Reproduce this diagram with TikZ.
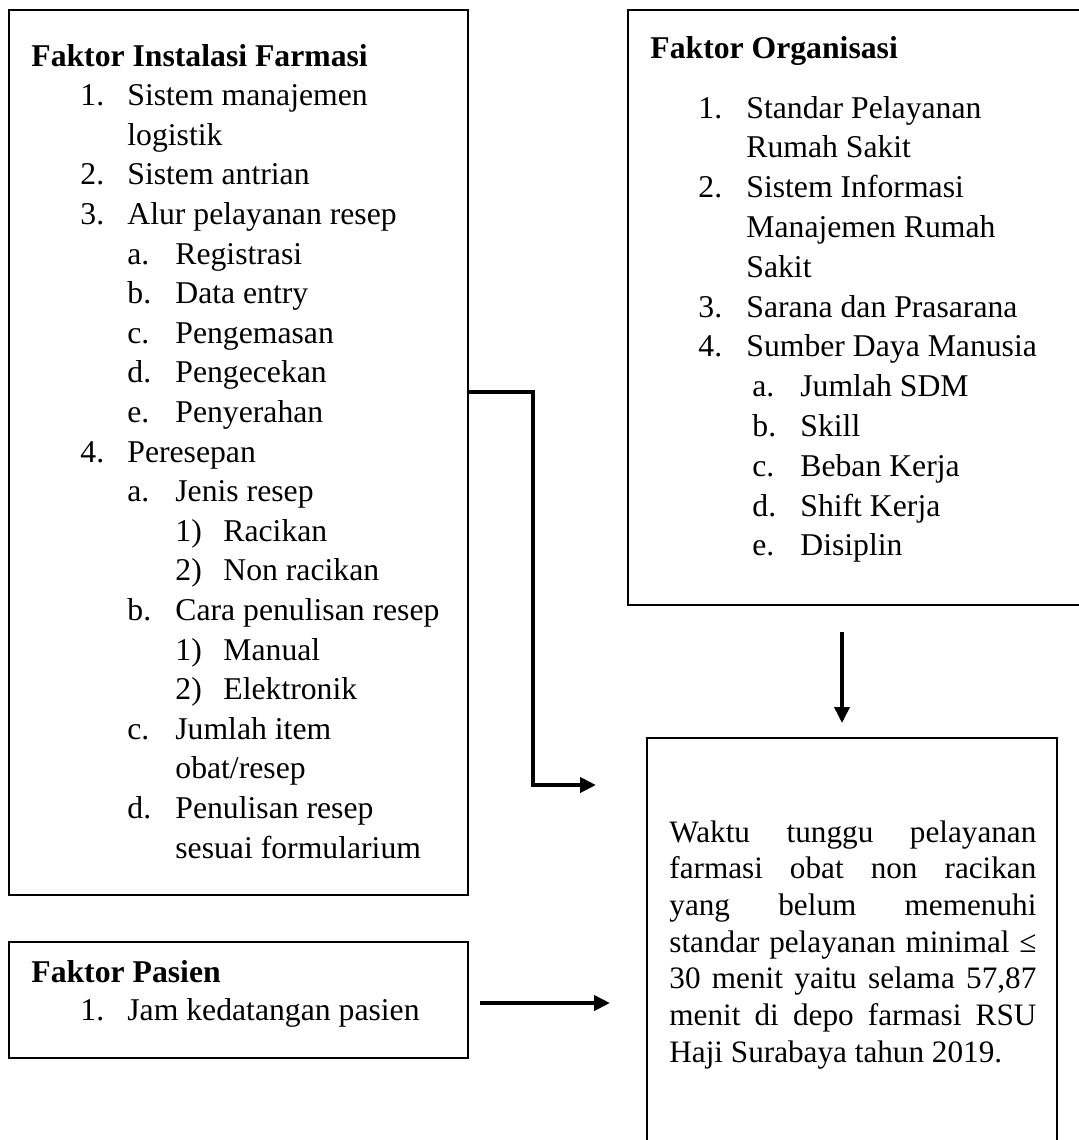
\documentclass[tikz,border=0pt]{standalone}
\usepackage{fontspec}
\setmainfont{Liberation Serif}
\usetikzlibrary{arrows.meta,fit}
\newcommand\itm[4]{\par\noindent\hspace*{#1}\makebox[\dimexpr#2-#1\relax][l]{#3}#4}
\newcommand\jline[1]{\par\noindent\makebox[\linewidth][s]{#1}}
\begin{document}
\begin{tikzpicture}[x=0.5pt,y=-0.5pt,
  box/.style={draw, line width=1.2pt, inner sep=0pt},
  conn/.style={line width=2pt, -{Triangle[length=8pt,width=7.5pt]}},
  txt/.style={anchor=base west, inner sep=0pt, align=left},
  listfont/.style={font=\fontsize{15.85pt}{19.8pt}\selectfont}]
\useasboundingbox (0,0) rectangle (1079,1140);
\clip (0,0) rectangle (1079,1140);

% boxes
\node[box, fit={(9,10)(468,895)}] (b1) {};
\node[box, fit={(628,10)(1100,605)}] (org) {};
\node[box, fit={(647,738)(1057,1200)}] (res) {};
\node[box, fit={(9,942)(468,1058)}] (pas) {};

% Faktor Instalasi Farmasi
\node[txt] (t1) at (31,66) {\parbox[t]{225pt}{\fontsize{15.85pt}{19.8pt}\selectfont
\noindent\textbf{Faktor Instalasi Farmasi}
\itm{24.5pt}{48pt}{1.}{Sistem manajemen}
\itm{24.5pt}{48pt}{}{logistik}
\itm{24.5pt}{48pt}{2.}{Sistem antrian}
\itm{24.5pt}{48pt}{3.}{Alur pelayanan resep}
\itm{48pt}{72pt}{a.}{Registrasi}
\itm{48pt}{72pt}{b.}{Data entry}
\itm{48pt}{72pt}{c.}{Pengemasan}
\itm{48pt}{72pt}{d.}{Pengecekan}
\itm{48pt}{72pt}{e.}{Penyerahan}
\itm{24.5pt}{48pt}{4.}{Peresepan}
\itm{48pt}{72pt}{a.}{Jenis resep}
\itm{72pt}{96pt}{1)}{Racikan}
\itm{72pt}{96pt}{2)}{Non racikan}
\itm{48pt}{72pt}{b.}{Cara penulisan resep}
\itm{72pt}{96pt}{1)}{Manual}
\itm{72pt}{96pt}{2)}{Elektronik}
\itm{48pt}{72pt}{c.}{Jumlah item}
\itm{48pt}{72pt}{}{obat/resep}
\itm{48pt}{72pt}{d.}{Penulisan resep}
\itm{48pt}{72pt}{}{sesuai formularium}}};

% Faktor Organisasi
\node[txt, font=\fontsize{15.85pt}{19.8pt}\selectfont\bfseries] (t2) at (650,58) {Faktor Organisasi};
\node[txt] (t2l) at (650,118) {\parbox[t]{210pt}{\fontsize{15.85pt}{19.9pt}\selectfont
\itm{24pt}{48pt}{1.}{Standar Pelayanan}
\itm{24pt}{48pt}{}{Rumah Sakit}
\itm{24pt}{48pt}{2.}{Sistem Informasi}
\itm{24pt}{48pt}{}{Manajemen Rumah}
\itm{24pt}{48pt}{}{Sakit}
\itm{24pt}{48pt}{3.}{Sarana dan Prasarana}
\itm{24pt}{48pt}{4.}{Sumber Daya Manusia}
\itm{51pt}{75pt}{a.}{Jumlah SDM}
\itm{51pt}{75pt}{b.}{Skill}
\itm{51pt}{75pt}{c.}{Beban Kerja}
\itm{51pt}{75pt}{d.}{Shift Kerja}
\itm{51pt}{75pt}{e.}{Disiplin}}};

% Faktor Pasien
\node[txt, font=\fontsize{15.85pt}{19.8pt}\selectfont\bfseries] (t3) at (31,982) {Faktor Pasien};
\node[txt] (t3l) at (31,1020) {\parbox[t]{220pt}{\fontsize{15.85pt}{19.8pt}\selectfont
\itm{24.5pt}{48pt}{1.}{Jam kedatangan pasien}}};

% Result
\node[txt] (t4) at (669,842) {\parbox[t]{183.5pt}{\fontsize{15.6pt}{18.35pt}\selectfont
\noindent\makebox[\linewidth][s]{Waktu tunggu pelayanan}
\jline{farmasi obat non racikan}
\jline{yang belum memenuhi}
\jline{standar pelayanan minimal ≤}
\jline{30 menit yaitu selama 57,87}
\jline{menit di depo farmasi RSU}
\par\noindent Haji Surabaya tahun 2019.}};

% connectors
\coordinate (h1) at (0,392);
\coordinate (k1) at (533,785);
\coordinate (k2) at (596,785);
\draw[conn] (b1.east |- h1) -| (k1) -- (k2);

\coordinate (d1) at (842,632);
\coordinate (d2) at (842,723);
\draw[conn, line width=1.8pt] (d1) -- (d2);

\coordinate (p1) at (480,1003);
\coordinate (p2) at (610,1003);
\draw[conn] (p1) -- (p2);
\end{tikzpicture}
\end{document}
